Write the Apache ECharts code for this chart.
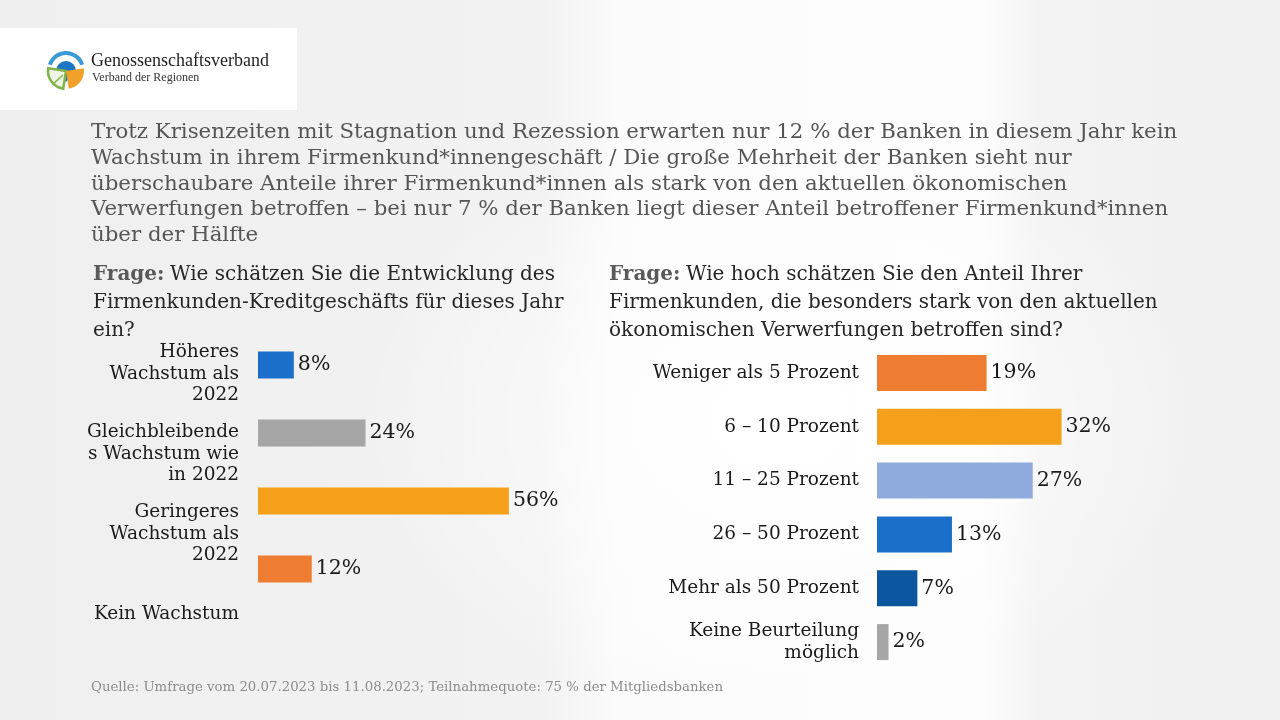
<!DOCTYPE html>
<html>
<head>
<meta charset="utf-8">
<script src="https://cdn.jsdelivr.net/npm/echarts@6/dist/echarts.min.js"></script>
<style>
html,body{margin:0;padding:0;}
body{width:1280px;height:720px;overflow:hidden;
background:
 radial-gradient(ellipse 420px 300px at 780px 420px, rgba(255,255,255,1), rgba(255,255,255,0)),
 linear-gradient(90deg,#efefef 0px,#f2f2f2 540px,#fbfbfb 620px,#fdfdfd 980px,#f3f3f3 1040px,#f0f0f0 1280px);}
#c{width:1280px;height:720px;}
</style>
</head>
<body>
<div id="c"></div>
<script>
// ---- data ----
const titleLines = [
  'Trotz Krisenzeiten mit Stagnation und Rezession erwarten nur 12 % der Banken in diesem Jahr kein',
  'Wachstum in ihrem Firmenkund*innengeschäft / Die große Mehrheit der Banken sieht nur',
  'überschaubare Anteile ihrer Firmenkund*innen als stark von den aktuellen ökonomischen',
  'Verwerfungen betroffen – bei nur 7 % der Banken liegt dieser Anteil betroffener Firmenkund*innen',
  'über der Hälfte'
];
const leftQuestionLines = [
  'Wie schätzen Sie die Entwicklung des',
  'Firmenkunden-Kreditgeschäfts für dieses Jahr',
  'ein?'
];
const rightQuestionLines = [
  'Wie hoch schätzen Sie den Anteil Ihrer',
  'Firmenkunden, die besonders stark von den aktuellen',
  'ökonomischen Verwerfungen betroffen sind?'
];
const leftCategories = [
  'Höheres\nWachstum als\n2022',
  'Gleichbleibende\ns Wachstum wie\nin 2022',
  'Geringeres\nWachstum als\n2022',
  'Kein Wachstum'
];
const leftValues = [8, 24, 56, 12];
const leftColors = ['#1a6fc9', '#a6a6a6', '#f5a01b', '#ee7d31'];

const rightCategories = [
  'Weniger als 5 Prozent',
  '6 – 10 Prozent',
  '11 – 25 Prozent',
  '26 – 50 Prozent',
  'Mehr als 50 Prozent',
  'Keine Beurteilung\nmöglich'
];
const rightValues = [19, 32, 27, 13, 7, 2];
const rightColors = ['#ee7d31', '#f5a01b', '#8faadc', '#1a6fc9', '#0b569e', '#a6a6a6'];

const sourceText = 'Quelle: Umfrage vom 20.07.2023 bis 11.08.2023; Teilnahmequote: 75 % der Mitgliedsbanken';

// ---- chart ----
const serif = '"DejaVu Serif", serif';
const chart = echarts.init(document.getElementById('c'), null, {renderer: 'canvas'});

function questionText(lines) {
  return lines.map((l, i) => (i === 0 ? '{b|Frage:} ' : '') + '{n|' + l + '}').join('\n');
}
const qRich = {
  b: {fontFamily: serif, fontSize: 20, fontWeight: 'bold', color: '#595959', lineHeight: 28},
  n: {fontFamily: serif, fontSize: 20, fontWeight: 'normal', color: '#262626', lineHeight: 28}
};

const valueLabel = {
  show: true, position: 'right', distance: 4,
  formatter: '{c}%', fontFamily: serif, fontSize: 20.5, color: '#1a1a1a'
};

chart.setOption({
  backgroundColor: 'transparent',
  animation: false,
  title: [
    {text: titleLines.join('\n'), left: 91, top: 120, padding: 0,
     textStyle: {fontFamily: serif, fontSize: 21.3, lineHeight: 25.6, color: '#555555', fontWeight: 'normal'}},
    {text: questionText(leftQuestionLines), left: 93, top: 261, padding: 0,
     textStyle: {rich: qRich, fontSize: 20, lineHeight: 28}},
    {text: questionText(rightQuestionLines), left: 609, top: 261, padding: 0,
     textStyle: {rich: qRich, fontSize: 20, lineHeight: 28}},
    {text: sourceText, left: 91, top: 681, padding: 0,
     textStyle: {fontFamily: serif, fontSize: 13.3, color: '#8c8c8c', fontWeight: 'normal'}}
  ],
  graphic: [
    {type: 'rect', shape: {x: 0, y: 28, width: 297, height: 82}, style: {fill: '#ffffff'}, z: 0},
    // logo mark
    {type: 'sector', shape: {cx: 66, cy: 70, r0: 15, r: 19, startAngle: Math.PI * 1.1, endAngle: Math.PI * 1.9}, style: {fill: '#3a9ad6'}},
    {type: 'sector', shape: {cx: 66, cy: 71, r0: 0, r: 10, startAngle: Math.PI * 1.0, endAngle: Math.PI * 2.0}, style: {fill: '#1d77c2'}},
    {type: 'polygon', shape: {points: [[56, 71], [76, 71], [66, 82]]}, style: {fill: '#1d77c2'}},
    {type: 'sector', shape: {cx: 66, cy: 71, r0: 0, r: 18, startAngle: Math.PI * 0.55, endAngle: Math.PI * 1.05}, style: {fill: '#eef5e4', stroke: '#7fb34a', lineWidth: 2.5}},
    {type: 'line', shape: {x1: 53, y1: 84, x2: 63, y2: 75}, style: {stroke: '#7fb34a', lineWidth: 1.5}},
    {type: 'sector', shape: {cx: 66, cy: 71, r0: 0, r: 18, startAngle: -Math.PI * 0.05, endAngle: Math.PI * 0.45}, style: {fill: '#f0a12a'}},
    {type: 'text', left: 91, top: 52, style: {text: 'Genossenschaftsverband', fontFamily: '"Liberation Serif", serif', fontSize: 18, fill: '#1e1e1e'}},
    {type: 'text', left: 92, top: 72, style: {text: 'Verband der Regionen', fontFamily: '"Liberation Serif", serif', fontSize: 12, fill: '#333333'}}
  ],
  grid: [
    {left: 258, top: 331, width: 448, height: 272},
    {left: 258, top: 334, width: 448, height: 320},
    {left: 877, top: 346, width: 346, height: 323}
  ],
  xAxis: [
    {type: 'value', gridIndex: 0, min: 0, max: 100, show: false},
    {type: 'value', gridIndex: 1, min: 0, max: 100, show: false},
    {type: 'value', gridIndex: 2, min: 0, max: 60, show: false}
  ],
  yAxis: [
    {type: 'category', gridIndex: 0, inverse: true, data: leftCategories, show: false},
    {type: 'category', gridIndex: 1, inverse: true, data: leftCategories,
     axisLine: {show: false}, axisTick: {show: false}, splitLine: {show: false},
     axisLabel: {margin: 19, fontFamily: serif, fontSize: 18.5, lineHeight: 21.5, color: '#1a1a1a', align: 'right'}},
    {type: 'category', gridIndex: 2, inverse: true, data: rightCategories,
     axisLine: {show: false}, axisTick: {show: false}, splitLine: {show: false},
     axisLabel: {margin: 18, fontFamily: serif, fontSize: 18.5, lineHeight: 22, color: '#1a1a1a', align: 'right'}}
  ],
  series: [
    {type: 'bar', xAxisIndex: 0, yAxisIndex: 0, barWidth: 27,
     data: leftValues.map((v, i) => ({value: v, itemStyle: {color: leftColors[i]}})),
     label: valueLabel},
    {type: 'bar', xAxisIndex: 2, yAxisIndex: 2, barWidth: 36,
     data: rightValues.map((v, i) => ({value: v, itemStyle: {color: rightColors[i]}})),
     label: valueLabel}
  ]
});
</script>
</body>
</html>
